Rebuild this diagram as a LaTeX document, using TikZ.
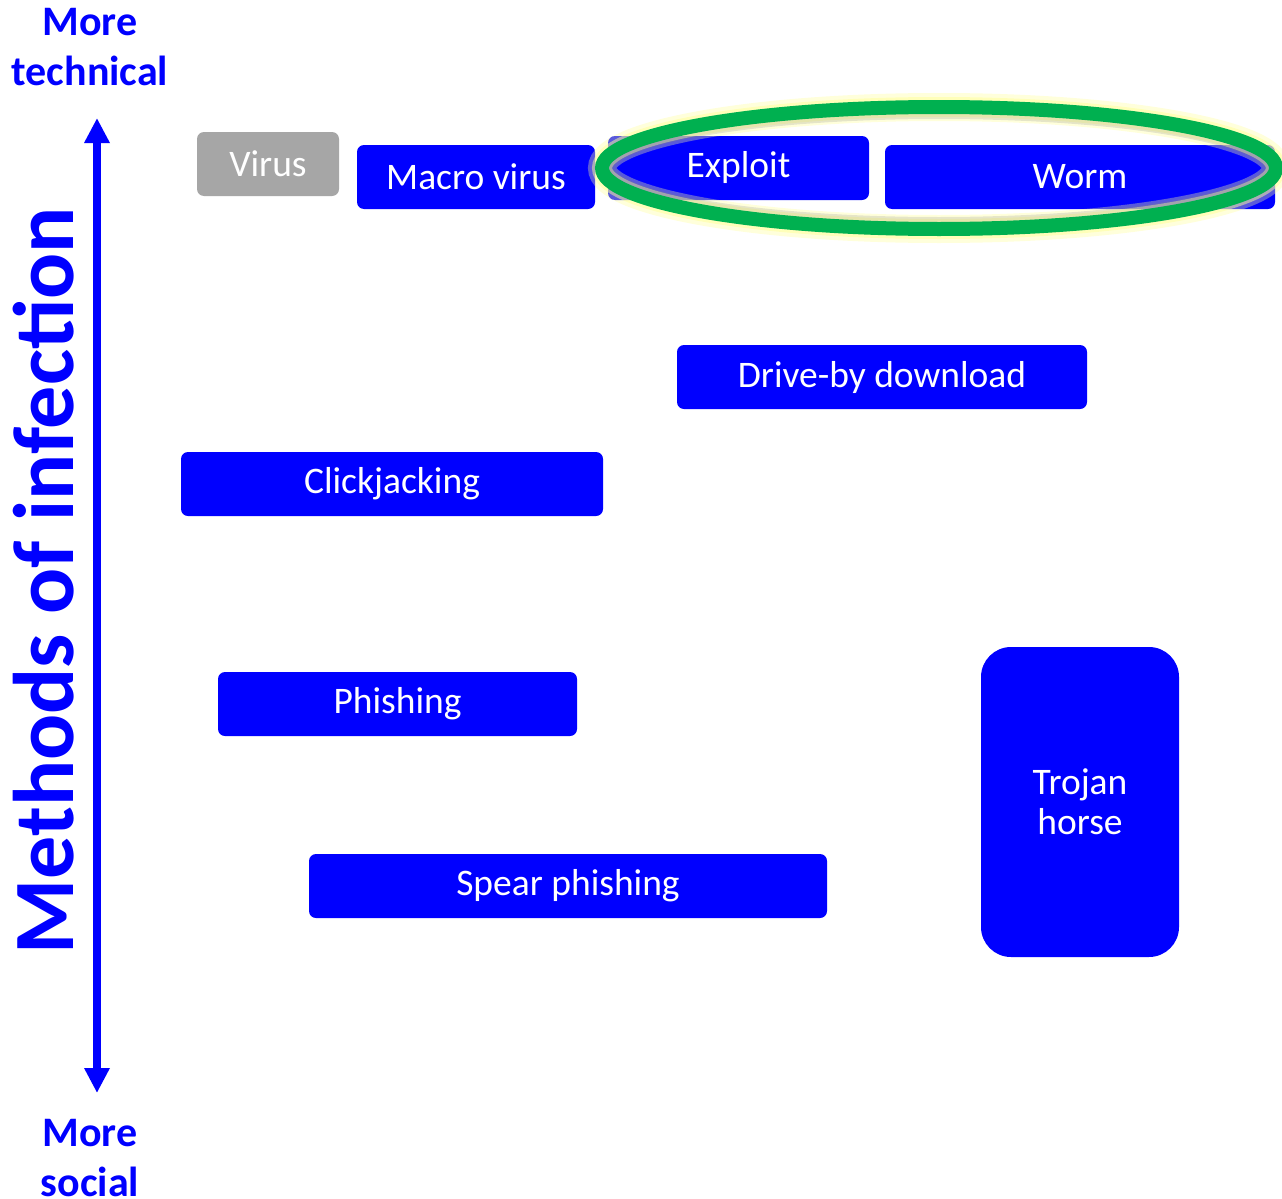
\documentclass[tikz,border=0pt]{standalone}
\usepackage{fontspec}
\setmainfont{Carlito}
\usetikzlibrary{arrows.meta}
\definecolor{pblue}{HTML}{0000FF}
\definecolor{pgray}{HTML}{A6A6A6}
\definecolor{pgreen}{HTML}{00B050}
\definecolor{pglow}{HTML}{FFFF99}
\begin{document}
\begin{tikzpicture}[x=1pt,y=-1pt,
  box/.style={fill=pblue, rounded corners=7pt, text=white, inner sep=0pt,
    font=\fontsize{37.5}{40}\selectfont, align=center},
  graybox/.style={box, fill=pgray},
  lbl/.style={text=pblue, font=\bfseries\fontsize{42}{50}\selectfont, align=center, inner sep=0pt}
]
\useasboundingbox (0,0) rectangle (1282,1199);
\fill[white] (0,0) rectangle (1282,1199);

% boxes
\node[graybox, minimum width=142pt, minimum height=64pt] (virus) at (268,164) {Virus};
\node[box, minimum width=238pt, minimum height=64pt] (macro) at (476,177) {Macro virus};
\node[box, minimum width=261pt, minimum height=64pt] (exploit) at (738.5,168) {Exploit};
\node[box, minimum width=390pt, minimum height=64pt] (worm) at (1080,177) {Worm};
\node[box, minimum width=410pt, minimum height=64pt] (drive) at (882,377) {Drive-by download};
\node[box, minimum width=422pt, minimum height=64pt] (click) at (392,484) {Clickjacking};
\node[box, minimum width=359pt, minimum height=64pt] (phish) at (397.5,704) {Phishing};
\node[box, minimum width=518pt, minimum height=64pt] (spear) at (568,886) {Spear phishing};
\node[box, rounded corners=30pt, minimum width=198pt, minimum height=310pt] (trojan) at (1080,802) {Trojan\\horse};

% highlight ellipse
\begin{scope}
\clip (0,0) rectangle (1282,1199);
\draw[pglow, opacity=0.35, line width=28pt] (939,168) ellipse [x radius=337pt, y radius=61pt];
\draw[pglow, opacity=0.5, line width=20pt] (939,168) ellipse [x radius=337pt, y radius=61pt];
\draw[gray, opacity=0.2, line width=16pt] (939,168) ellipse [x radius=332pt, y radius=57pt];
\draw[pgreen, line width=14pt] (939,168) ellipse [x radius=337pt, y radius=61pt];
\end{scope}

% axis
\coordinate (top) at (97,118);
\coordinate (bot) at (97,1093);
\draw[pblue, line width=8pt, {Triangle[width=24pt,length=25pt]}-{Triangle[width=24pt,length=25pt]}] (bot) -- (top);

\node[lbl] (tech) at (90,47) {More\\technical};
\node[lbl] (social) at (90,1158) {More\\social};
\node[text=pblue, font=\bfseries\fontsize{86}{90}\selectfont, rotate=90, inner sep=0pt] (methods) at (44,581) {Methods of infection};
\end{tikzpicture}
\end{document}
